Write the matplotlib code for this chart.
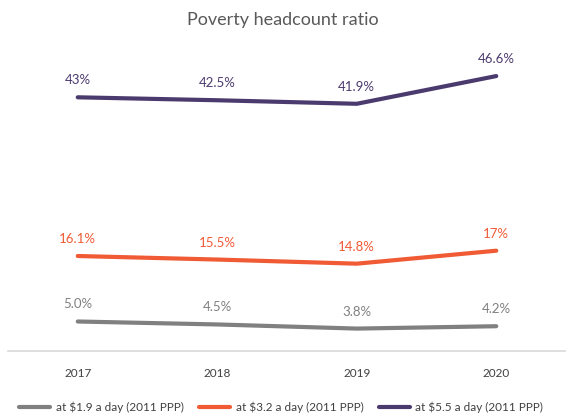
import matplotlib
matplotlib.use("Agg")
import matplotlib.pyplot as plt

years = ["2017", "2018", "2019", "2020"]
s19 = [5.0, 4.5, 3.8, 4.2]
s32 = [16.1, 15.5, 14.8, 17.0]
s55 = [43.0, 42.5, 41.9, 46.6]
lab19 = ["5.0%", "4.5%", "3.8%", "4.2%"]
lab32 = ["16.1%", "15.5%", "14.8%", "17%"]
lab55 = ["43%", "42.5%", "41.9%", "46.6%"]
names = ["at $1.9 a day (2011 PPP)", "at $3.2 a day (2011 PPP)", "at $5.5 a day (2011 PPP)"]
colors = ["#808080", "#F05A35", "#4B3A6E"]

plt.rcParams['font.family'] = ['Lato', 'DejaVu Sans']

fig = plt.figure(figsize=(5.66, 4.19), dpi=100)
ax = fig.add_axes([8/566, 1-351/419, 558/566, (351-56)/419])
x = list(range(len(years)))
for vals, labs, c, n in zip([s19, s32, s55], [lab19, lab32, lab55], colors, names):
    ax.plot(x, vals, color=c, lw=3, label=n, solid_capstyle='round')
    for xi, v, l in zip(x, vals, labs):
        ax.annotate(l, (xi, v), xytext=(0, 17), textcoords='offset pixels',
                    ha='center', va='center', color=c, fontsize=9.5)

ax.set_xlim(-0.5, 3.5)
ax.set_ylim(0, 50)
ax.set_xticks(x)
ax.set_xticklabels(years)
ax.set_yticks([])
for s in ['top', 'right', 'left']:
    ax.spines[s].set_visible(False)
ax.spines['bottom'].set_color('#D9D9D9')
ax.spines['bottom'].set_linewidth(1.2)
ax.tick_params(axis='x', length=0, pad=12, labelsize=8.5, colors='#404040')

fig.text(0.5, 1-20/419, "Poverty headcount ratio", ha='center', va='center',
         fontsize=13, color='#595959')

handles, labels = ax.get_legend_handles_labels()
fig.legend(handles, labels, loc='center', bbox_to_anchor=(0.497, 1-407/419), ncol=3,
           frameon=False, fontsize=8.5, handlelength=2.6, columnspacing=1.3,
           handletextpad=0.5, labelcolor='#404040')

fig.savefig("out.png", dpi=100)
